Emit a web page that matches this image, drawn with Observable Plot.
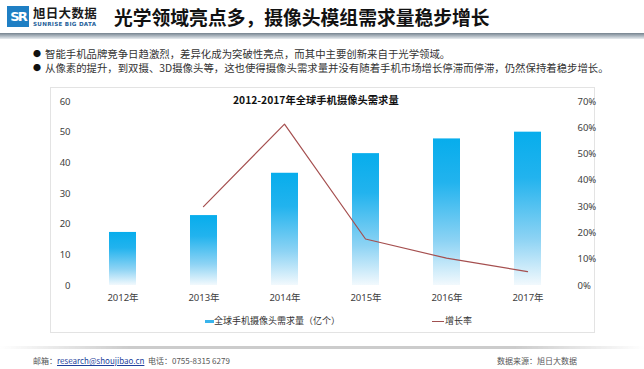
<!DOCTYPE html>
<html><head><meta charset="utf-8">
<script src="https://cdn.jsdelivr.net/npm/d3@7"></script>
<script src="https://cdn.jsdelivr.net/npm/@observablehq/plot@0.6"></script>
<style>
html,body{margin:0;padding:0;background:#fff;}
#page{position:relative;width:644px;height:369px;overflow:hidden;background:#fff;font-family:"Noto Sans CJK SC","Noto Sans",sans-serif;color:#333;}
.abs{position:absolute;white-space:nowrap;}
#logoIcon{left:7px;top:6px;width:22px;height:21px;background:#1f7fc4;color:#fff;font:bold 13px/21px "DejaVu Sans",sans-serif;text-align:center;letter-spacing:-2px;}
#logoCn{left:33px;top:5px;font-size:12.5px;line-height:15px;font-weight:700;color:#1a1a1a;letter-spacing:0.3px;}
#logoEn{left:33px;top:21px;font:bold 5.6px/7px "DejaVu Sans",sans-serif;color:#1f5f9a;letter-spacing:0.3px;}
#title{left:114px;top:3px;font-size:18.8px;font-weight:700;color:#111;}
#hbar{left:0;top:33px;width:644px;height:6px;background:linear-gradient(#76838f,#b9c2ca 60%,#e9edf0);}
.bul{left:33px;font-size:10.4px;color:#333;}
.bul b{font-weight:400;font-size:8px;color:#111;margin-right:4px;position:relative;top:-1px;}
#frame{left:50px;top:87px;width:545px;height:246px;border:1px solid #e3e3e3;box-sizing:border-box;}
#ctitle{left:233px;top:92px;font-size:10.3px;font-weight:700;color:#111;}
.plot{position:absolute;left:0;top:0;}
#leg1sw{left:205px;top:320px;width:9px;height:3px;background:#39b4ec;}
#leg1{left:214px;top:314px;font-size:9px;color:#333;}
#leg2sw{left:432px;top:321px;width:12px;height:1.3px;background:#a05050;}
#leg2{left:445px;top:314px;font-size:9px;color:#333;}
#fline{left:0;top:346px;width:644px;height:3px;background:linear-gradient(90deg,rgba(180,180,180,0),rgba(170,170,170,0.6) 20%,rgba(170,170,170,0.6) 80%,rgba(180,180,180,0));filter:blur(0.6px);}
.foot{top:355px;font-size:8px;color:#555;}
.foot a{color:#1d3f9c;text-decoration:underline;}
</style></head>
<body><div id="page">
<div class="abs" id="logoIcon">SR</div>
<div class="abs" id="logoCn">旭日大数据</div>
<div class="abs" id="logoEn">SUNRISE BIG DATA</div>
<div class="abs" id="title">光学领域亮点多，摄像头模组需求量稳步增长</div>
<div class="abs" id="hbar"></div>
<div class="abs bul" style="top:46px"><b>●</b>智能手机品牌竞争日趋激烈，差异化成为突破性亮点，而其中主要创新来自于光学领域。</div>
<div class="abs bul" style="top:60px"><b>●</b>从像素的提升，到双摄、3D摄像头等，这也使得摄像头需求量并没有随着手机市场增长停滞而停滞，仍然保持着稳步增长。</div>
<div class="abs" id="frame"></div>
<div class="abs" id="ctitle">2012-2017年全球手机摄像头需求量</div>
<div id="plots"></div>
<div class="abs" id="leg1sw"></div>
<div class="abs" id="leg1">全球手机摄像头需求量（亿个）</div>
<div class="abs" id="leg2sw"></div>
<div class="abs" id="leg2">增长率</div>
<div class="abs" id="fline"></div>
<div class="abs foot" style="left:33px">邮箱：<a>research@shoujibao.cn</a>&nbsp; 电话：0755-8315 6279</div>
<div class="abs foot" style="left:497px">数据来源：旭日大数据</div>
</div>
<script>
// ---- data ----
const years = ["2012", "2013", "2014", "2015", "2016", "2017"];
const demand = [17.3, 22.8, 36.6, 43.0, 47.8, 50.0];          // 亿个
const growth = [null, 0.30, 0.614, 0.177, 0.104, 0.053];      // 增长率
const leftTicks = [0, 10, 20, 30, 40, 50, 60];
const rightTicks = [0, 0.1, 0.2, 0.3, 0.4, 0.5, 0.6, 0.7];

const rows = years.map((y, i) => ({year: y, demand: demand[i], growth: growth[i]}));

const common = {
  width: 644, height: 369,
  marginTop: 101, marginBottom: 84, marginLeft: 81.5, marginRight: 76,
  style: {background: "transparent", fontFamily: "'Noto Sans','Noto Sans CJK SC',sans-serif", fontSize: "9.5px", color: "#404040", overflow: "visible"}
};
const xScale = {domain: years, paddingInner: 0.667, paddingOuter: 0.333, align: 0.5};

const p1 = Plot.plot({
  ...common,
  x: {...xScale},
  y: {domain: [0, 60]},
  marks: [
    Plot.barY(rows, {x: "year", y: "demand", fill: "url(#barGrad)"}),
    Plot.axisY({anchor: "left", ticks: leftTicks, tickSize: 0, tickPadding: 11.5, label: null}),
    Plot.axisX({anchor: "bottom", tickSize: 0, tickPadding: 9, tickFormat: d => d + "年", label: null})
  ]
});
const defs = d3.select(p1).insert("defs", ":first-child");
const g = defs.append("linearGradient").attr("id", "barGrad").attr("x1", 0).attr("y1", 0).attr("x2", 0).attr("y2", 1);
g.append("stop").attr("offset", "0%").attr("stop-color", "#07adec");
g.append("stop").attr("offset", "30%").attr("stop-color", "#22b3ee");
g.append("stop").attr("offset", "70%").attr("stop-color", "#8dd3f4");
g.append("stop").attr("offset", "100%").attr("stop-color", "#f2f9fd");
p1.classList.add("plot");

const p2 = Plot.plot({
  ...common,
  x: {...xScale, axis: null},
  y: {domain: [0, 0.7], axis: null},
  marks: [
    Plot.lineY(rows.filter(d => d.growth != null), {x: "year", y: "growth", stroke: "#a54f4f", strokeWidth: 1.2}),
    Plot.axisY({anchor: "right", ticks: rightTicks, tickFormat: d3.format(".0%"), tickSize: 0, tickPadding: 9, label: null})
  ]
});
p2.classList.add("plot");
const holder = document.getElementById("plots");
holder.appendChild(p1);
holder.appendChild(p2);
</script>
</body></html>
